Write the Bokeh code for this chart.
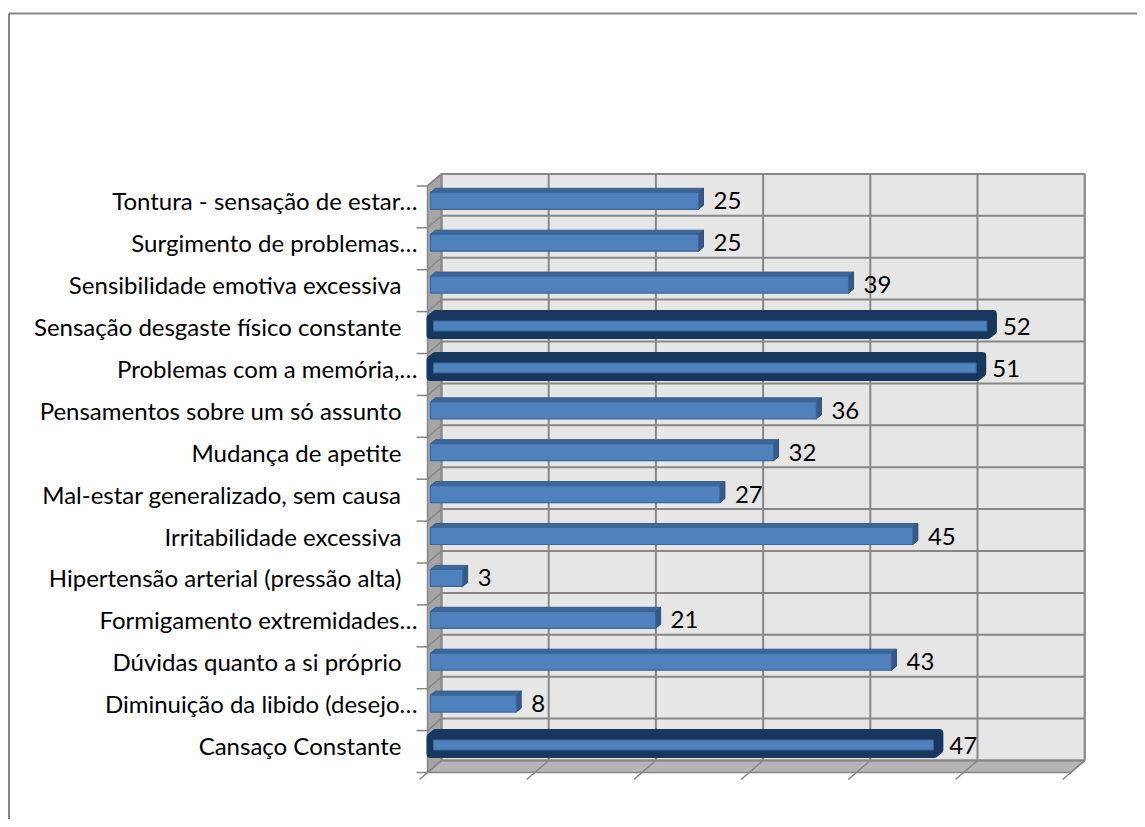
from bokeh.plotting import figure
from bokeh.models import Range1d, ColumnDataSource
from bokeh.embed import file_html
from bokeh.resources import INLINE
from bokeh.core.properties import value

# ---------------- data ----------------
categories = [
    "Cansaço Constante",
    "Diminuição da libido (desejo…",
    "Dúvidas quanto a si próprio",
    "Formigamento extremidades…",
    "Hipertensão arterial (pressão alta)",
    "Irritabilidade excessiva",
    "Mal-estar generalizado, sem causa",
    "Mudança de apetite",
    "Pensamentos sobre um só assunto",
    "Problemas com a memória,…",
    "Sensação desgaste físico constante",
    "Sensibilidade emotiva excessiva",
    "Surgimento de problemas…",
    "Tontura - sensação de estar…",
]
counts = [47, 8, 43, 21, 3, 45, 27, 32, 36, 51, 52, 39, 25, 25]
x_ticks = [0, 10, 20, 30, 40, 50, 60]

# ---------------- geometry (pixels -> data) ----------------
W, H = 1137, 819
SX = 10.72      # px per value unit
SY = 41.9       # px per category band
X0 = 430        # canvas px of value 0
Y0 = 745        # canvas px (from top) of first category centre


def px_x(d):
    return d / SX


def px_y(d):
    return d / SY


FONT = "Lato"
FSIZE = "24px"

p = figure(width=W, height=H,
           x_range=Range1d(-X0 / SX, (W - X0) / SX),
           y_range=Range1d(-(H - Y0) / SY, Y0 / SY),
           output_backend="svg", toolbar_location=None,
           min_border=0, outline_line_color=None)
p.xaxis.visible = False
p.yaxis.visible = False
p.grid.visible = False
p.background_fill_color = "white"
p.border_fill_color = "white"

n = len(categories)
xmax = x_ticks[-1]
fx, bx = px_x(-3), px_x(11)        # front / back plane x offsets
fy, by = px_y(-27), px_y(-15)      # front / back floor y
top_b, top_f = by + n, fy + n
GRID = "#878787"

# back wall
p.quad(left=bx, right=xmax + bx, bottom=by, top=top_b,
       fill_color="#e6e6e6", line_color=GRID, line_width=1.5)
# left wall
p.patch([fx, bx, bx, fx], [fy, by, top_b, top_f],
        fill_color="#a5a5a5", line_color=GRID, line_width=1.5)
# floor
p.patch([fx, xmax + fx, xmax + bx, bx], [fy, fy, by, by],
        fill_color="#b5b5b5", line_color=GRID, line_width=1.5)

# back-wall grid
p.segment(x0=[t + bx for t in x_ticks], y0=[by] * len(x_ticks),
          x1=[t + bx for t in x_ticks], y1=[top_b] * len(x_ticks),
          line_color=GRID, line_width=2)
ks = list(range(n + 1))
p.segment(x0=[bx] * len(ks), y0=[by + k for k in ks],
          x1=[xmax + bx] * len(ks), y1=[by + k for k in ks],
          line_color=GRID, line_width=2)
# left wall diagonals and ticks
p.segment(x0=[fx] * len(ks), y0=[fy + k for k in ks],
          x1=[bx] * len(ks), y1=[by + k for k in ks],
          line_color=GRID, line_width=1.5)
p.segment(x0=[fx - px_x(11)] * len(ks), y0=[fy + k for k in ks],
          x1=[fx] * len(ks), y1=[fy + k for k in ks],
          line_color=GRID, line_width=1.5)
# floor diagonals and ticks
p.segment(x0=[t + fx - px_x(8) for t in x_ticks], y0=[fy - px_y(7)] * len(x_ticks),
          x1=[t + bx for t in x_ticks], y1=[by] * len(x_ticks),
          line_color=GRID, line_width=1.5)

# ---------------- bars ----------------
h = px_y(17)
bdx, bdy = px_x(5), px_y(4)
ys = list(range(n))

top_xs, top_ys, side_xs, side_ys = [], [], [], []
for i, v in zip(ys, counts):
    top_xs.append([0, v, v + bdx, bdx])
    top_ys.append([i + h / 2, i + h / 2, i + h / 2 + bdy, i + h / 2 + bdy])
    side_xs.append([v, v + bdx, v + bdx, v])
    side_ys.append([i - h / 2, i - h / 2 + bdy, i + h / 2 + bdy, i + h / 2])
p.patches(top_xs, top_ys, fill_color="#3e6699", line_color="#365d8c", line_width=1)
p.patches(side_xs, side_ys, fill_color="#35598a", line_color="#2f5382", line_width=1)
src = ColumnDataSource(dict(y=ys, v=counts, cat=categories,
                            lab=[str(c) for c in counts]))
p.hbar(y="y", right="v", left=0, height=h, source=src,
       fill_color="#4f81bd", line_color="#3b6699", line_width=1.2)

# highlighted: three largest values
order = sorted(range(n), key=lambda k: counts[k], reverse=True)[:3]
hl_xs, hl_ys = [], []
for k in order:
    v, i = counts[k], ys[k]
    hl_xs.append([0, v, v + bdx, v + bdx, bdx, 0])
    hl_ys.append([i - h / 2, i - h / 2, i - h / 2 + bdy, i + h / 2 + bdy,
                  i + h / 2 + bdy, i + h / 2])
p.patches(hl_xs, hl_ys, fill_color="#17375e", line_color="#17375e",
          line_width=8, line_join="round")
p.quad(left=[px_x(3)] * 3, right=[counts[k] - px_x(1) for k in order],
       bottom=[ys[k] - h / 2 + px_y(4) for k in order],
       top=[ys[k] + h / 2 - px_y(3) for k in order],
       fill_color="#4f81bd", line_color="#3a6597", line_width=1)

# value labels
p.text(x=[v + bdx + px_x(10) for v in counts], y=ys, text=[str(c) for c in counts],
       text_font=value(FONT), text_font_size=FSIZE, text_color="#000000",
       text_align="left", text_baseline="middle")

# category labels
lab_x = [px_x(-13) if c.endswith("…") else px_x(-29) for c in categories]
p.text(x=lab_x, y=ys, text=categories,
       text_font=value(FONT), text_font_size=FSIZE, text_color="#000000",
       text_align="right", text_baseline="middle")

# chart border (top and left)
xs0, xe = p.x_range.start, p.x_range.end
ys0, ye = p.y_range.start, p.y_range.end
p.segment(x0=[xs0 + px_x(8.5), xs0 + px_x(8.5)], y0=[ye - px_y(13), ye - px_y(13)],
          x1=[xe, xs0 + px_x(8.5)], y1=[ye - px_y(13), ys0],
          line_color="#868686", line_width=2)

open("out.html", "w").write(file_html(p, INLINE))
